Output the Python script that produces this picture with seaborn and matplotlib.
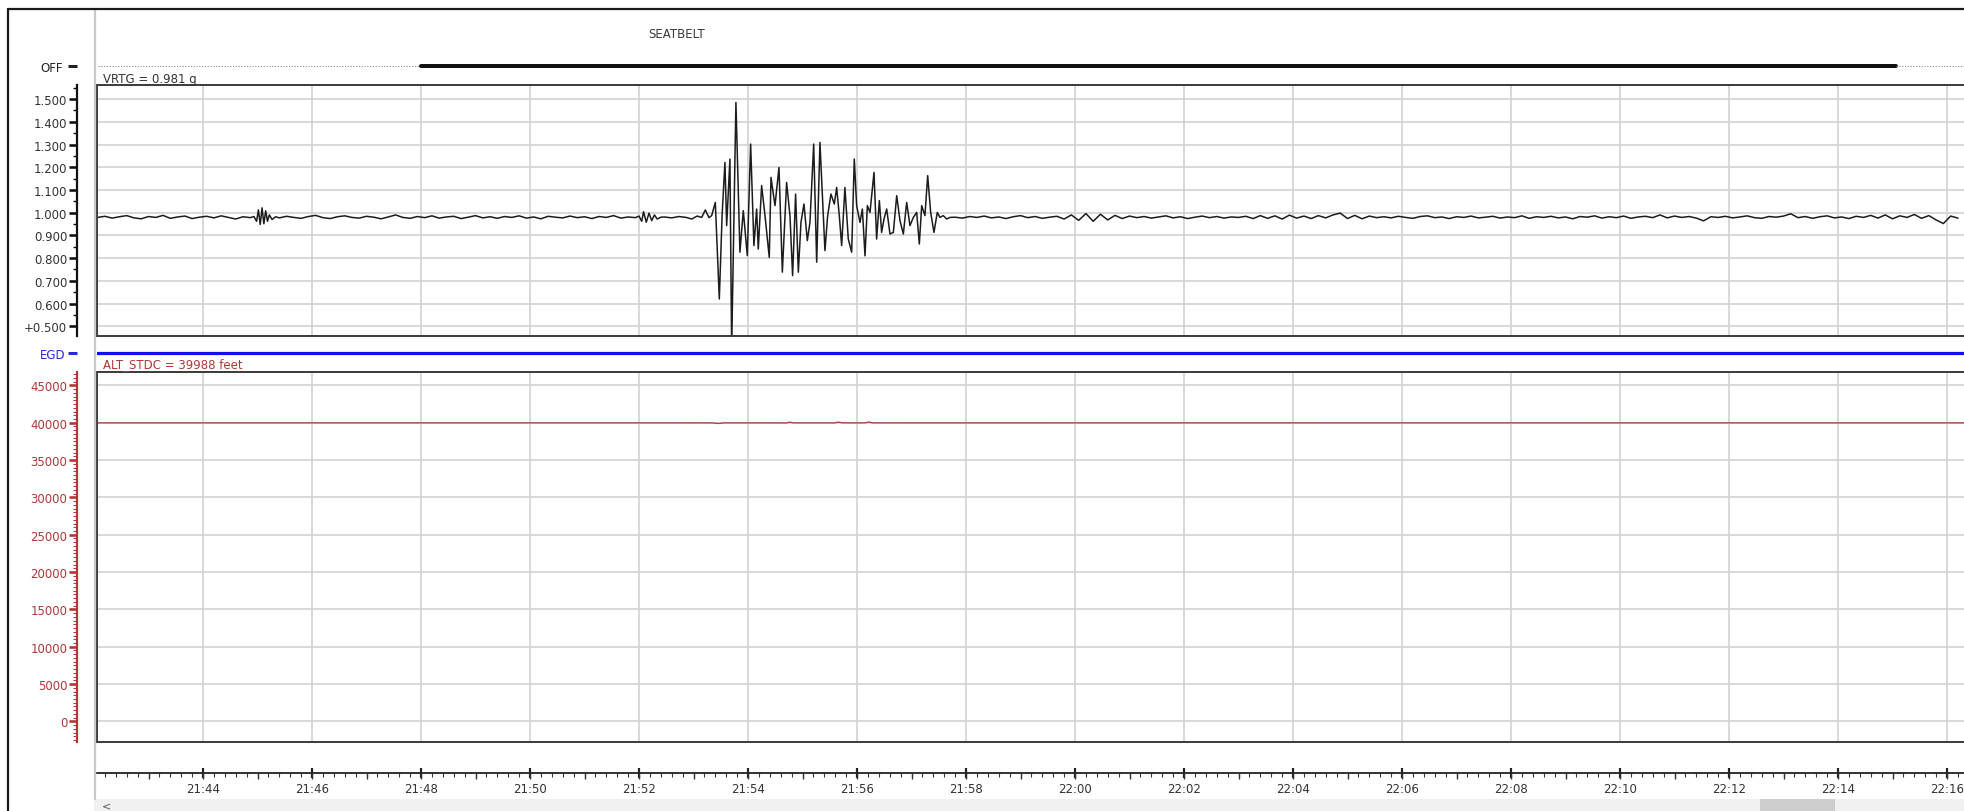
import numpy as np
import pandas as pd
import matplotlib
matplotlib.use("Agg")
import matplotlib.pyplot as plt
import seaborn as sns
from matplotlib.ticker import MultipleLocator, FixedLocator, FuncFormatter, NullFormatter
from matplotlib.lines import Line2D
from matplotlib.patches import Rectangle

# ---------------------------------------------------------------
# Time base: seconds after 21:42:00
# ---------------------------------------------------------------
T0_HOUR, T0_MIN = 21, 42
t_span = (3.3, 2059.8)

# SEATBELT discrete: interval edges (s) and which intervals are bold
seatbelt_edges = [4.4, 360.0, 1984.0, 2059.8]
seatbelt_bold = [False, True, False]

# EGD discrete: constant over the whole record
egd_edges = [3.3, 2059.8]

# VRTG (g) -- quiet stretches are sampled every 8 s, events at full rate
vrtg_quiet_step = 8
vrtg_pre_start = 4
vrtg_pre = [0.979, 0.984, 0.976, 0.982, 0.987, 0.977, 0.973, 0.983, 0.979, 0.988,
            0.975, 0.981, 0.985, 0.974, 0.980, 0.984, 0.977, 0.986, 0.979, 0.972,
            0.982, 0.978]

vrtg_bump1_t = [176, 179, 181, 183, 185, 187, 189, 191, 193, 196, 200]
vrtg_bump1 = [0.983, 0.962, 1.012, 0.948, 1.021, 0.951, 1.008, 0.962, 0.990, 0.970, 0.982]

vrtg_mid_start = 204
vrtg_mid = [0.977, 0.984, 0.979, 0.975, 0.983, 0.988, 0.978, 0.974, 0.982, 0.986,
            0.979, 0.976, 0.984, 0.980, 0.973, 0.981, 0.990, 0.979, 0.975, 0.983,
            0.978, 0.986, 0.976, 0.981, 0.984, 0.974, 0.980, 0.987, 0.977, 0.982,
            0.975, 0.983, 0.979, 0.986, 0.976, 0.981, 0.973, 0.984, 0.980, 0.977,
            0.985, 0.978, 0.982, 0.974, 0.983, 0.979, 0.987, 0.976, 0.981, 0.978]

vrtg_bump2_t = [600, 603, 605, 608, 611, 614, 617, 620, 624]
vrtg_bump2 = [0.985, 0.962, 1.004, 0.958, 0.998, 0.965, 0.990, 0.972, 0.980]

vrtg_event_t = [628, 636, 644, 652, 658, 664, 669, 673, 677, 680,
                684, 688.4, 691.5, 694.6, 696.5, 700.1, 702.0, 706.7, 711.1, 714.8,
                719.2, 722.9, 726.5, 729.5, 731.3, 735.0, 738.7, 743.4, 745.3, 749.7,
                754.1, 757.8, 762.5, 766.2, 769.1, 772.4, 775.4, 778.3, 781.6, 785.3,
                788.2, 792.3, 795.6, 799.2, 804.7, 807.7, 811.3, 815.0, 817.6, 820.5,
                823.1, 826.7, 830.4, 834.1, 837.0, 839.6, 843.3, 845.9, 848.8, 851.4,
                854.3, 858.7, 861.6, 864.6, 867.1, 869.7, 872.7, 876.3, 880.0, 883.7,
                887.3, 891.0, 894.7, 898.3, 902.0, 905.7, 908.6, 911.2, 914.8, 917.8,
                921.1, 924.7, 928.4, 931.3, 935.0, 938.7, 942.3]
vrtg_event = [0.981, 0.977, 0.983, 0.979, 0.972, 0.985, 0.979, 1.012, 0.978, 0.987,
              1.045, 0.620, 0.990, 1.221, 0.943, 1.236, 0.400, 1.485, 0.826, 1.009,
              0.811, 1.302, 0.855, 1.016, 0.840, 1.119, 0.987, 0.803, 1.155, 1.031,
              1.199, 0.738, 1.133, 0.987, 0.723, 1.082, 0.738, 0.957, 1.038, 0.877,
              0.957, 1.302, 0.782, 1.309, 0.833, 0.987, 1.082, 1.038, 1.111, 0.987,
              0.855, 1.111, 0.884, 0.826, 1.236, 1.031, 0.957, 1.016, 0.810, 1.031,
              1.001, 1.177, 0.884, 1.053, 0.913, 0.972, 1.016, 0.906, 0.913, 1.075,
              0.965, 0.906, 1.045, 0.943, 0.979, 1.001, 0.862, 1.031, 0.987, 1.163,
              1.001, 0.913, 1.001, 0.979, 0.987, 0.972, 0.979]

vrtg_post_start = 948
vrtg_post = [0.980, 0.976, 0.983, 0.979, 0.985, 0.977, 0.981, 0.974, 0.982, 0.987,
             0.978, 0.983, 0.975, 0.980, 0.984,
             0.972, 0.990, 0.966, 0.996, 0.962, 0.993, 0.968, 0.988, 0.974, 0.985,
             0.978, 0.983, 0.976, 0.981, 0.986, 0.977, 0.982, 0.974, 0.980, 0.985,
             0.978, 0.983, 0.976, 0.981, 0.979, 0.984,
             0.974, 0.987, 0.975, 0.986, 0.972, 0.989, 0.976, 0.985, 0.974, 0.987,
             0.977, 0.990, 0.998, 0.974, 0.988, 0.973, 0.985, 0.978,
             0.982, 0.977, 0.984, 0.979, 0.975, 0.983, 0.986, 0.978, 0.981, 0.974,
             0.982, 0.979, 0.985, 0.977, 0.980, 0.984, 0.976, 0.981, 0.978, 0.986,
             0.975, 0.982,
             0.979, 0.984, 0.977, 0.981, 0.973, 0.983, 0.980, 0.986, 0.976, 0.982,
             0.978, 0.985, 0.975, 0.981, 0.984, 0.978, 0.990, 0.977, 0.985, 0.979,
             0.983, 0.976, 0.964, 0.982, 0.979, 0.984, 0.977, 0.981, 0.986, 0.978,
             0.975, 0.983, 0.980, 0.985, 0.995,
             0.978, 0.983, 0.975, 0.982, 0.986, 0.977, 0.981, 0.974, 0.984, 0.979,
             0.988, 0.976, 0.990, 0.973, 0.986, 0.979, 0.992, 0.975, 0.987, 0.968,
             0.952, 0.985, 0.976, 0.982]

# ALT_STDC (feet)
alt_t = [4, 640, 680, 687, 694, 750, 762, 766, 770, 810, 815, 819, 824,
         845, 850, 853, 857, 900, 1500, 2059]
alt_ft = [39988, 39990, 39985, 39900, 39990, 39985, 39975, 40080, 39990, 39990,
          39980, 40090, 39995, 39985, 40010, 40110, 39990, 39988, 39990, 39988]

vrtg_label = "VRTG = 0.981 g"
alt_label = "ALT_STDC = 39988 feet"
vrtg_major = [0.5, 0.6, 0.7, 0.8, 0.9, 1.0, 1.1, 1.2, 1.3, 1.4, 1.5]
alt_major = [0, 5000, 10000, 15000, 20000, 25000, 30000, 35000, 40000, 45000]


def quiet(start, vals):
    return start + vrtg_quiet_step * np.arange(len(vals)), np.asarray(vals, float)


pieces = [quiet(vrtg_pre_start, vrtg_pre),
          (np.asarray(vrtg_bump1_t, float), np.asarray(vrtg_bump1)),
          quiet(vrtg_mid_start, vrtg_mid),
          (np.asarray(vrtg_bump2_t, float), np.asarray(vrtg_bump2)),
          (np.asarray(vrtg_event_t, float), np.asarray(vrtg_event)),
          quiet(vrtg_post_start, vrtg_post)]
vrtg_df = pd.DataFrame({"t": np.concatenate([p[0] for p in pieces]),
                        "g": np.concatenate([p[1] for p in pieces])})
vrtg_df = vrtg_df[vrtg_df["t"] <= t_span[1]]
alt_df = pd.DataFrame({"t": alt_t, "ft": alt_ft})

# ---------------------------------------------------------------
sns.set_style("white", {"xtick.bottom": True, "ytick.left": True})
plt.rcParams["font.family"] = ["DejaVu Sans"]

W, H = 1965, 812
fig = plt.figure(figsize=(W / 100, H / 100), dpi=100)
fig.patch.set_facecolor("white")


def fx(px):
    return px / W


def fy(py):
    return 1 - py / H


LEFT = fx(97)
WIDTH = 1 - LEFT
PT = 72 / 100  # points per pixel
OFFSET = 20 * PT
TXT = "#333333"
RED = "#b03838"
BLUE = "#1010e6"
GRID = "#d2d2d2"
BOX = "#3a3a3a"


def hhmm(s, pos=None):
    total = T0_HOUR * 60 + T0_MIN + int(round(s / 60.0))
    return f"{(total // 60) % 24:02d}:{total % 60:02d}"


def axes_between(top_px, bottom_px):
    return fig.add_axes([LEFT, fy(bottom_px), WIDTH, (bottom_px - top_px) / H])


def style_box(ax, color, labelcolor):
    ax.set_xlim(*t_span)
    ax.spines["right"].set_visible(False)
    for side in ("top", "bottom"):
        ax.spines[side].set_color(BOX)
        ax.spines[side].set_linewidth(1.4)
    ax.spines["left"].set_position(("outward", OFFSET))
    ax.spines["left"].set_color(color)
    ax.spines["left"].set_linewidth(1.6)
    ax.add_line(Line2D([0, 0], [0, 1], transform=ax.transAxes, color=BOX,
                       lw=1.4, clip_on=False))
    ax.xaxis.set_major_locator(MultipleLocator(120))
    ax.tick_params(axis="x", length=0, labelbottom=False, bottom=False)
    ax.grid(True, which="major", color=GRID, lw=1.2)
    ax.set_axisbelow(True)
    ax.tick_params(axis="y", which="both", left=True, right=False)
    ax.tick_params(axis="y", which="major", direction="out", length=8 * PT,
                   width=2.6 * PT, color=color, labelsize=8.5, labelcolor=labelcolor,
                   pad=1.2)
    ax.tick_params(axis="y", which="minor", direction="out", length=4.5 * PT,
                   width=1.4 * PT, color=color)
    ax.set_xlabel("")
    ax.set_ylabel("")


def style_discrete(ax, label, color, pad):
    ax.set_xlim(*t_span)
    ax.set_ylim(-1, 1)
    for side in ("top", "bottom", "right"):
        ax.spines[side].set_visible(False)
    ax.spines["left"].set_position(("outward", OFFSET))
    ax.spines["left"].set_visible(False)
    ax.set_xticks([])
    ax.set_yticks([0])
    ax.set_yticklabels([label])
    ax.tick_params(axis="y", left=True, direction="out", length=9 * PT, width=3.0 * PT,
                   color=color, labelcolor=color, labelsize=8.5, pad=pad)
    ax.patch.set_alpha(0)
    ax.set_xlabel("")
    ax.set_ylabel("")


# ---- SEATBELT discrete ----
ax_sb = axes_between(60, 74)
for (a, b), bold in zip(zip(seatbelt_edges[:-1], seatbelt_edges[1:]), seatbelt_bold):
    if bold:
        sns.lineplot(x=[a, b], y=[0, 0], ax=ax_sb, color="#111111", lw=4 * PT)
    else:
        sns.lineplot(x=[a, b], y=[0, 0], ax=ax_sb, color="#8a8a8a", lw=1.0 * PT,
                     linestyle=(0, (1.2, 1.6)))
style_discrete(ax_sb, "OFF", "#222222", 3.5)

# ---- VRTG panel ----
ax_v = axes_between(86, 337)
sns.lineplot(data=vrtg_df, x="t", y="g", ax=ax_v, color="#1c1c1c", lw=1.1,
             estimator=None, errorbar=None)
ax_v.set_ylim(0.457, 1.562)
style_box(ax_v, "#111111", TXT)
ax_v.yaxis.set_major_locator(FixedLocator(vrtg_major))
ax_v.yaxis.set_minor_locator(MultipleLocator(0.05))
ax_v.yaxis.set_major_formatter(FuncFormatter(
    lambda v, p: "+0.500" if abs(v - 0.5) < 1e-9 else f"{v:.3f}"))

# ---- EGD discrete ----
ax_e = axes_between(348, 360)
sns.lineplot(x=egd_edges, y=[0, 0], ax=ax_e, color=BLUE, lw=3.2 * PT)
style_discrete(ax_e, "EGD", "#2a2ad8", 2.0)

# ---- ALT_STDC panel ----
ax_a = axes_between(373, 743)
sns.lineplot(data=alt_df, x="t", y="ft", ax=ax_a, color="#b04040", lw=0.95,
             estimator=None, errorbar=None)
ax_a.set_ylim(-2760, 46800)
style_box(ax_a, RED, RED)
ax_a.yaxis.set_major_locator(FixedLocator(alt_major))
ax_a.yaxis.set_minor_locator(MultipleLocator(500))
ax_a.yaxis.set_major_formatter(FuncFormatter(lambda v, p: f"{int(v)}"))
ax_a.tick_params(axis="y", which="minor", width=1.0 * PT, length=4 * PT)

# ---- time scale ----
def time_axes():
    ax = fig.add_axes([LEFT, fy(774), WIDTH, 2 / H])
    ax.set_xlim(*t_span)
    for side in ("top", "left", "right"):
        ax.spines[side].set_visible(False)
    ax.set_yticks([])
    ax.patch.set_alpha(0)
    return ax


ax_t = time_axes()
ax_t.spines["bottom"].set_color("#222222")
ax_t.spines["bottom"].set_linewidth(1.3)
ax_t.xaxis.set_major_locator(MultipleLocator(120))
ax_t.xaxis.set_minor_locator(MultipleLocator(12))
ax_t.xaxis.set_major_formatter(FuncFormatter(hhmm))
ax_t.tick_params(axis="x", which="both", bottom=True, top=False)
ax_t.tick_params(axis="x", which="major", direction="inout", length=10 * PT,
                 width=2.2 * PT, color="#222222", labelsize=8.5, labelcolor=TXT, pad=3.0)
ax_t.tick_params(axis="x", which="minor", direction="out", length=4 * PT,
                 width=1.1 * PT, color="#333333")

# one-minute marks, a little longer than the 12 s marks
ax_m = time_axes()
ax_m.spines["bottom"].set_visible(False)
ax_m.xaxis.set_major_locator(MultipleLocator(60))
ax_m.xaxis.set_major_formatter(NullFormatter())
ax_m.tick_params(axis="x", which="major", bottom=True, direction="out",
                 length=6 * PT, width=1.4 * PT, color="#333333")

# ---- titles / labels ----
fig.text(fx(677), fy(34), "SEATBELT", ha="center", va="center", fontsize=8.5, color="#3a3a3a")
fig.text(fx(103), fy(79), vrtg_label, ha="left", va="center", fontsize=8.5, color=TXT)
fig.text(fx(103), fy(365), alt_label, ha="left", va="center", fontsize=8.5, color=RED)

# ---- window chrome ----
fig.add_artist(Rectangle((fx(94), 0), 1 - fx(94), 12 / H, transform=fig.transFigure,
                         facecolor="#f0f0f0", edgecolor="none"))
fig.add_artist(Rectangle((fx(1760), 0), fx(75), 12 / H, transform=fig.transFigure,
                         facecolor="#cdcdcd", edgecolor="none"))
fig.text(fx(107), fy(806), "<", ha="center", va="center", fontsize=8, color="#555555")
fig.add_artist(Line2D([fx(95), fx(95)], [fy(10), fy(800)], transform=fig.transFigure,
                      color="#c8c8c8", lw=1.6))
fig.add_artist(Line2D([fx(8), fx(8)], [fy(10), 0], transform=fig.transFigure,
                      color="#1a1a1a", lw=1.6))
fig.add_artist(Line2D([fx(8), 1], [fy(10), fy(10)], transform=fig.transFigure,
                      color="#1a1a1a", lw=1.6))

fig.savefig("out.png", dpi=100, facecolor="white")
